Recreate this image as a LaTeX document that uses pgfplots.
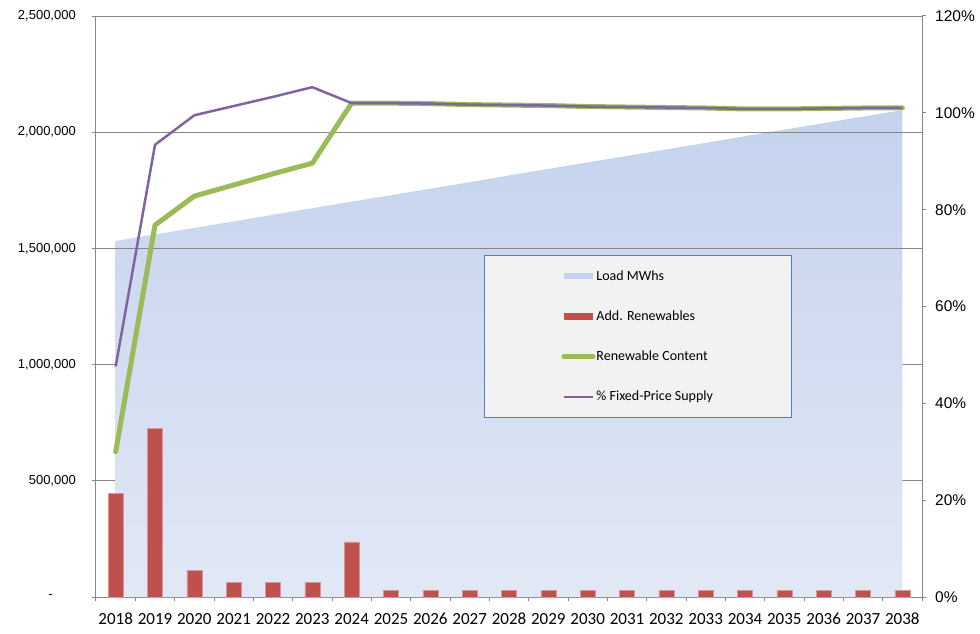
\documentclass[border=0pt]{standalone}
\usepackage{pgfplots}
\pgfplotsset{compat=1.18}
\usepackage{fontspec}
\setmainfont{Liberation Sans}
\newfontfamily\carlito{Carlito}
\definecolor{axisgray}{RGB}{134,134,134}
\definecolor{barred}{RGB}{192,80,77}
\definecolor{rgreen}{RGB}{155,187,89}
\definecolor{fpurple}{RGB}{128,100,162}
\definecolor{areatop}{RGB}{196,210,238}
\definecolor{areabot}{RGB}{226,232,245}
\definecolor{legfill}{RGB}{242,242,242}
\definecolor{legdraw}{RGB}{79,129,189}
\begin{document}
\begin{tikzpicture}
\begin{axis}[
  scale only axis, width=826pt, height=581pt,
  xmin=-0.5, xmax=20.5, ymin=0, ymax=2500000,
  scaled y ticks=false,
  axis y line*=left, axis x line*=bottom,
  axis line style={axisgray, line width=1pt},
  tick style={axisgray, line width=1pt},
  tick align=outside, major tick length=4pt,
  ytick={0,500000,1000000,1500000,2000000,2500000},
  yticklabels={{-\hspace*{23pt}\mbox{}},{500,000},{1,000,000},{1,500,000},{2,000,000},{2,500,000}},
  yticklabel style={font=\fontsize{13}{15}\selectfont, anchor=east, inner sep=0pt, xshift=-16pt},
  ymajorgrids, grid style={axisgray, line width=1pt},
  xtick={-0.5,0.5,1.5,2.5,3.5,4.5,5.5,6.5,7.5,8.5,9.5,10.5,11.5,12.5,13.5,14.5,15.5,16.5,17.5,18.5,19.5,20.5},
  x tick label as interval,
  xticklabels={2018,2019,2020,2021,2022,2023,2024,2025,2026,2027,2028,2029,2030,2031,2032,2033,2034,2035,2036,2037,2038},
  xticklabel style={font=\carlito\fontsize{17}{19}\selectfont, inner sep=0pt, yshift=-12pt},
]
\addplot[draw=none, top color=areatop, bottom color=areabot] coordinates {
(0,1532000) (1,1560000) (2,1588000) (3,1616000) (4,1645000) (5,1673000) (6,1701000)
(7,1729000) (8,1757000) (9,1785000) (10,1814000) (11,1842000) (12,1870000) (13,1898000)
(14,1926000) (15,1954000) (16,1983000) (17,2011000) (18,2039000) (19,2067000) (20,2095000)
} \closedcycle;
\draw[axisgray, line width=1pt] (-0.5,1500000) -- (20.5,1500000);
\draw[axisgray, line width=1pt] (-0.5,2000000) -- (20.5,2000000);
\addplot[ybar, bar width=15pt, fill=barred, draw=barred!60!white, line width=0.5pt] coordinates {
(0,447000) (1,726000) (2,116000) (3,63000) (4,63000) (5,63000) (6,237000)
(7,30000) (8,30000) (9,30000) (10,30000) (11,30000) (12,30000) (13,30000)
(14,30000) (15,30000) (16,30000) (17,30000) (18,30000) (19,30000) (20,30000)
};
\end{axis}
\begin{axis}[
  scale only axis, width=826pt, height=581pt,
  xmin=-0.5, xmax=20.5, ymin=0, ymax=120,
  axis x line=none, axis y line*=right,
  axis line style={axisgray, line width=1pt},
  tick style={axisgray, line width=1pt},
  tick align=outside, major tick length=4pt,
  ytick={0,20,40,60,80,100,120},
  /pgf/number format/assume math mode=true,
  yticklabel={\pgfmathprintnumber{\tick}\%},
  yticklabel style={font=\fontsize{15.5}{17}\selectfont, anchor=west, inner sep=0pt, xshift=9pt},
  legend style={at={(0.4697,0.5886)}, anchor=north west, fill=legfill, draw=legdraw, line width=1pt,
    font=\carlito\fontsize{14}{16}\selectfont, inner xsep=76pt, inner ysep=13pt, row sep=25pt,
    nodes={inner sep=2pt}, /tikz/every odd column/.append style={column sep=-2pt}},
  legend cell align=left,
  legend image code/.code={\draw[#1] (0pt,0pt) -- (29pt,0pt);},
]
\addlegendimage{areatop, line width=6pt}
\addlegendentry{Load MWhs}
\addlegendimage{barred, line width=7pt}
\addlegendentry{Add. Renewables}
\addplot[rgreen, line width=5pt, line join=round, line cap=round] coordinates {
(0,30.0) (1,76.8) (2,82.8) (3,85.1) (4,87.4) (5,89.6) (6,102.0)
(7,102.0) (8,101.9) (9,101.7) (10,101.6) (11,101.5) (12,101.3) (13,101.2)
(14,101.1) (15,101.0) (16,100.8) (17,100.8) (18,100.9) (19,101.0) (20,101.0)
};
\addlegendentry{Renewable Content}
\addplot[fpurple, line width=2.5pt, line join=round] coordinates {
(0,47.6) (1,93.4) (2,99.5) (3,101.4) (4,103.3) (5,105.3) (6,102.0)
(7,102.0) (8,101.9) (9,101.7) (10,101.6) (11,101.5) (12,101.3) (13,101.2)
(14,101.1) (15,101.0) (16,100.8) (17,100.8) (18,100.9) (19,101.0) (20,101.0)
};
\addlegendentry{\% Fixed-Price Supply}
\end{axis}
\path (-96pt,-36pt) rectangle (884pt,597pt);
\end{tikzpicture}
\end{document}
